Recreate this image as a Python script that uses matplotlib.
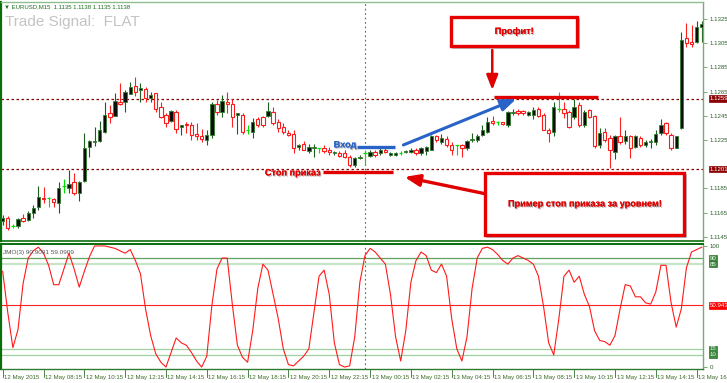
import matplotlib
matplotlib.use('Agg')
import matplotlib.pyplot as plt
import matplotlib.patheffects as pe
from matplotlib.patches import Rectangle
import numpy as np

# ---------------- data ----------------
opens = [1.1158,1.1161,1.1154,1.1154,1.1161,1.1159,1.1165,1.1170,1.1177,1.1177,
         1.1176,1.1173,1.1187,1.1185,1.1190,1.1181,1.1191,1.1219,1.1223,1.1224,
         1.1232,1.1247,1.1245,1.1256,1.1256,1.1263,1.1270,1.1266,1.1267,1.1260,
         1.1264,1.1252,1.1246,1.1241,1.1248,1.1236,1.1238,1.1237,1.1230,1.1228,
         1.1225,1.1229,1.1255,1.1248,1.1256,1.1255,1.1246,1.1246,1.1233,1.1232,
         1.1242,1.1244,1.1245,1.1248,1.1240,1.1236,1.1231,1.1230,1.1219,1.1222,
         1.1216,1.1218,1.1218,1.1218,1.1217,1.1214,1.1214,1.1214,1.1211,1.1204,
         1.1210,1.1214,1.1212,1.1215,1.1214,1.1217,1.1213,1.1213,1.1214,1.1215,
         1.1215,1.1217,1.1214,1.1216,1.1217,1.1228,1.1223,1.1226,1.1221,1.1221,
         1.1221,1.1218,1.1225,1.1225,1.1229,1.1232,1.1241,1.1240,1.1240,1.1237,
         1.1247,1.1249,1.1249,1.1246,1.1246,1.1251,1.1246,1.1233,1.1232,1.1251,
         1.1251,1.1248,1.1244,1.1254,1.1237,1.1250,1.1245,1.1221,1.1232,1.1227,
         1.1215,1.1228,1.1224,1.1228,1.1219,1.1227,1.1221,1.1223,1.1223,1.1231,
         1.1239,1.1229,1.1218,1.1235,1.1309,1.1306,1.1306,1.1318]
highs = [1.1163,1.1162,1.1156,1.1161,1.1164,1.1166,1.1171,1.1187,1.1186,1.1178,
         1.1177,1.1190,1.1193,1.1200,1.1198,1.1191,1.1231,1.1225,1.1236,1.1241,
         1.1256,1.1254,1.1264,1.1272,1.1266,1.1273,1.1277,1.1272,1.1269,1.1265,
         1.1264,1.1256,1.1247,1.1250,1.1250,1.1237,1.1240,1.1240,1.1239,1.1234,
         1.1233,1.1256,1.1258,1.1262,1.1265,1.1259,1.1247,1.1247,1.1237,1.1243,
         1.1244,1.1245,1.1256,1.1252,1.1242,1.1239,1.1233,1.1233,1.1222,1.1224,
         1.1222,1.1222,1.1218,1.1221,1.1219,1.1216,1.1216,1.1217,1.1213,1.1211,
         1.1213,1.1217,1.1217,1.1217,1.1218,1.1218,1.1215,1.1215,1.1216,1.1217,
         1.1218,1.1218,1.1219,1.1220,1.1229,1.1229,1.1230,1.1228,1.1223,1.1221,
         1.1222,1.1225,1.1231,1.1230,1.1237,1.1244,1.1245,1.1241,1.1240,1.1249,
         1.1251,1.1251,1.1250,1.1249,1.1252,1.1252,1.1247,1.1235,1.1256,1.1265,
         1.1256,1.1250,1.1259,1.1256,1.1250,1.1251,1.1246,1.1235,1.1235,1.1229,
         1.1229,1.1244,1.1233,1.1229,1.1229,1.1228,1.1225,1.1226,1.1233,1.1242,
         1.1240,1.1231,1.1228,1.1314,1.1322,1.1320,1.1323,1.1323]
lows = [1.1155,1.1151,1.1152,1.1152,1.1157,1.1158,1.1161,1.1167,1.1173,1.1170,
        1.1170,1.1165,1.1181,1.1181,1.1180,1.1175,1.1190,1.1211,1.1220,1.1223,
        1.1231,1.1239,1.1245,1.1254,1.1248,1.1263,1.1261,1.1256,1.1256,1.1256,
        1.1248,1.1243,1.1236,1.1240,1.1231,1.1229,1.1231,1.1225,1.1225,1.1223,
        1.1221,1.1227,1.1246,1.1244,1.1247,1.1236,1.1230,1.1230,1.1230,1.1227,
        1.1236,1.1236,1.1244,1.1237,1.1232,1.1230,1.1228,1.1214,1.1217,1.1217,
        1.1214,1.1211,1.1214,1.1214,1.1213,1.1213,1.1211,1.1210,1.1203,1.1203,
        1.1209,1.1204,1.1211,1.1211,1.1213,1.1214,1.1212,1.1212,1.1213,1.1214,
        1.1214,1.1213,1.1213,1.1213,1.1217,1.1223,1.1222,1.1219,1.1213,1.1213,
        1.1211,1.1217,1.1223,1.1223,1.1228,1.1231,1.1237,1.1237,1.1237,1.1236,
        1.1246,1.1246,1.1246,1.1245,1.1242,1.1244,1.1233,1.1223,1.1228,1.1248,
        1.1243,1.1235,1.1242,1.1236,1.1236,1.1243,1.1218,1.1218,1.1223,1.1202,
        1.1209,1.1222,1.1222,1.1210,1.1218,1.1219,1.1219,1.1218,1.1221,1.1229,
        1.1229,1.1217,1.1218,1.1234,1.1302,1.1302,1.1305,1.1306]
closes = [1.1161,1.1152,1.1154,1.1160,1.1158,1.1165,1.1169,1.1178,1.1176,1.1177,
          1.1174,1.1185,1.1187,1.1189,1.1181,1.1190,1.1218,1.1224,1.1224,1.1233,
          1.1246,1.1244,1.1257,1.1255,1.1265,1.1269,1.1265,1.1268,1.1260,1.1262,
          1.1251,1.1244,1.1239,1.1249,1.1234,1.1237,1.1237,1.1229,1.1228,1.1226,
          1.1229,1.1255,1.1248,1.1257,1.1255,1.1244,1.1247,1.1232,1.1233,1.1240,
          1.1237,1.1237,1.1249,1.1239,1.1235,1.1232,1.1229,1.1218,1.1221,1.1217,
          1.1219,1.1219,1.1218,1.1216,1.1215,1.1215,1.1212,1.1211,1.1204,1.1210,
          1.1211,1.1214,1.1215,1.1213,1.1217,1.1215,1.1214,1.1214,1.1214,1.1216,
          1.1217,1.1214,1.1218,1.1219,1.1228,1.1225,1.1227,1.1221,1.1217,1.1221,
          1.1218,1.1224,1.1226,1.1228,1.1233,1.1240,1.1239,1.1240,1.1238,1.1248,
          1.1248,1.1247,1.1247,1.1248,1.1250,1.1245,1.1233,1.1231,1.1252,1.1251,
          1.1247,1.1236,1.1252,1.1237,1.1248,1.1244,1.1220,1.1231,1.1225,1.1217,
          1.1228,1.1223,1.1228,1.1218,1.1228,1.1221,1.1223,1.1224,1.1230,1.1237,
          1.1231,1.1218,1.1228,1.1308,1.1305,1.1304,1.1318,1.1321]

jmo = [79,45,16,31,69,90,96,99,94,84,68,68,81,94,81,66,79,91,100,100,
       100,99,98,96,94,97,88,77,48,26,11,4,0,12,24,20,18,12,5,0,
       9,51,81,90,90,52,18,8,4,30,65,85,80,60,40,15,2,1,5,9,
       15,45,75,80,60,20,2,0,1,25,70,92,98,95,90,85,60,25,5,30,
       70,88,95,92,80,78,85,75,40,15,5,25,65,90,98,99,97,93,88,85,
       90,92,90,88,85,75,50,20,10,40,75,80,70,75,60,50,30,22,21,18,
       26,48,68,67,58,58,53,52,62,84,84,53,33,48,82,95,97,99]

price_ticks = [1.1325, 1.1305, 1.1285, 1.1265, 1.1245, 1.1225, 1.1185, 1.1165, 1.1145]
level_lines = [1.1259, 1.1201]
level_labels = ['1.1259', '1.1201']
jmo_levels = [90, 85, 15, 10]
jmo_last = 50.9434
time_labels = ['12 May 2015', '12 May 08:15', '12 May 10:15', '12 May 12:15', '12 May 14:15',
               '12 May 16:15', '12 May 18:15', '12 May 20:15', '12 May 22:15', '13 May 00:15',
               '13 May 02:15', '13 May 04:15', '13 May 06:15', '13 May 08:15', '13 May 10:15',
               '13 May 12:15', '13 May 14:15', '13 May 16:15']
label_step = 8
cursor_bar = 71

# ---------------- figure ----------------
W, H = 727, 383
fig = plt.figure(figsize=(W / 100, H / 100), dpi=100)
fig.patch.set_facecolor('white')
FONT = 'Liberation Sans'
SMALL = 4.4
ANN = 6.6

def fx(px):
    return px / W

def fy(py):
    return 1 - py / H

ax = fig.add_axes([fx(1), fy(241), fx(703) - fx(1), fy(2) - fy(241)])
ax2 = fig.add_axes([fx(1), fy(369), fx(703) - fx(1), fy(244) - fy(369)])

n = len(closes)
x = np.arange(n)
O = np.array(opens); Hh = np.array(highs); L = np.array(lows); C = np.array(closes)
bull = C > O
bear = C < O
doji = C == O

ax.set_xlim(-0.33, 137.25)
ax.set_ylim(1.11416, 1.13390)

# wicks
ax.vlines(x[bull], L[bull], Hh[bull], color='#1c5e1c', lw=0.8, zorder=2)
ax.vlines(x[bear], L[bear], Hh[bear], color='#ff2020', lw=0.8, zorder=2)
ax.vlines(x[doji], L[doji], Hh[doji], color='#00e000', lw=0.8, zorder=2)
# bodies
ax.bar(x[bull], (C - O)[bull], bottom=O[bull], width=0.66, color='#0a0f0a',
       edgecolor='#2f7f2f', linewidth=0.6, zorder=3)
ax.bar(x[bear], (O - C)[bear], bottom=C[bear], width=0.66, color='white',
       edgecolor='#ff1a1a', linewidth=0.8, zorder=3)
ax.hlines(C[doji], x[doji] - 0.35, x[doji] + 0.35, color='#00e000', lw=0.9, zorder=3)

# level lines
for lv in level_lines:
    ax.axhline(lv, color='#8b0000', lw=0.9, ls=(0, (2, 2)), zorder=1)
ax.axvline(cursor_bar, color='#1f8f1f', lw=0.8, ls=(0, (1.5, 2.5)), zorder=1)

# axes styling
for a in (ax, ax2):
    a.set_facecolor('white')
    a.tick_params(axis='x', which='both', bottom=False, labelbottom=False)
    a.yaxis.tick_right()
    a.tick_params(axis='y', direction='out', length=3, width=0.6, color='#5f9f5f',
                  labelsize=SMALL, labelcolor='#2e5e2e', pad=1.5)
ax.spines['left'].set_color('#0a6e0a'); ax.spines['left'].set_linewidth(1.6)
ax.spines['top'].set_color('#8fbf8f'); ax.spines['top'].set_linewidth(1.0)
ax.spines['right'].set_color('#7aa97a'); ax.spines['right'].set_linewidth(1.0)
ax.spines['bottom'].set_color('#0a6e0a'); ax.spines['bottom'].set_linewidth(1.2)
ax2.spines['left'].set_color('#0a6e0a'); ax2.spines['left'].set_linewidth(1.6)
ax2.spines['top'].set_color('#0a6e0a'); ax2.spines['top'].set_linewidth(1.4)
ax2.spines['right'].set_color('#7aa97a'); ax2.spines['right'].set_linewidth(1.0)
ax2.spines['bottom'].set_color('#2e7d2e'); ax2.spines['bottom'].set_linewidth(1.0)

ax.set_yticks(price_ticks)
ax.set_yticklabels([f'{p:.4f}' for p in price_ticks], fontfamily=FONT)
for lv, lb in zip(level_lines, level_labels):
    ax.text(1.0095, lv, lb, transform=ax.get_yaxis_transform(), fontsize=SMALL,
            family=FONT, color='white', va='center', ha='left',
            bbox=dict(boxstyle='square,pad=0.15', fc='#8b0000', ec='#8b0000', lw=0.5),
            clip_on=False)

# header texts
fig.text(fx(4), fy(7), '\u25bc EURUSD,M15  1.1135 1.1138 1.1135 1.1138', fontsize=4.3,
         family=[FONT, 'DejaVu Sans'], color='#1f6b1f', va='center', ha='left')
fig.text(fx(5), fy(22), 'Trade Signal:  FLAT', fontsize=11, family=FONT,
         color='#c4c4c4', va='center', ha='left')

# ---------------- annotations ----------------
def px2d(px, py):
    return ((px - 1.7) / 5.11, 1.1325 - (py - 19) * 0.0000826)

shadow = [pe.withSimplePatchShadow(offset=(0.8, -0.8), shadow_rgbFace='#909090', alpha=0.7),
          pe.Normal()]

# entry
e0, e1 = px2d(357, 147), px2d(395, 147)
ax.plot([e0[0], e1[0]], [e0[1], e1[1]], color='#2a63c8', lw=2.4, solid_capstyle='butt', zorder=5)
ax.text(*px2d(356, 145), 'Вход', fontsize=ANN, fontweight='bold', family=FONT,
        color='#2a63c8', ha='right', va='center', path_effects=shadow, zorder=6)
# stop
s0, s1 = px2d(322, 172), px2d(393, 172)
ax.plot([s0[0], s1[0]], [s0[1], s1[1]], color='#e00000', lw=2.4, solid_capstyle='butt', zorder=5)
ax.text(*px2d(320, 173), 'Стоп приказ', fontsize=ANN, fontweight='bold', family=FONT,
        color='#e00000', ha='right', va='center', path_effects=shadow, zorder=6)
# profit line
p0, p1 = px2d(494, 97), px2d(598, 97)
ax.plot([p0[0], p1[0]], [p0[1], p1[1]], color='#e00000', lw=2.4, solid_capstyle='butt', zorder=5)
# blue arrow
ax.annotate('', xy=px2d(516, 99), xytext=px2d(403, 145),
            arrowprops=dict(arrowstyle='-|>,head_length=0.9,head_width=0.35', lw=2.2,
                            color='#2a63c8', shrinkA=0, shrinkB=0), zorder=6)
# red down arrow
ax.annotate('', xy=px2d(492, 90), xytext=px2d(492, 50),
            arrowprops=dict(arrowstyle='-|>,head_length=0.9,head_width=0.35', lw=1.8,
                            color='#e00000', shrinkA=0, shrinkB=0), zorder=6)
# red left arrow
ax.annotate('', xy=px2d(404, 177), xytext=px2d(486, 194),
            arrowprops=dict(arrowstyle='-|>,head_length=0.9,head_width=0.35', lw=2.4,
                            color='#e00000', shrinkA=0, shrinkB=0), zorder=6)

# boxes
def box(px0, py0, px1, py1, text):
    a0 = px2d(px0, py1); a1 = px2d(px1, py0)
    sh0 = px2d(px0 + 2, py1 + 2); sh1 = px2d(px1 + 2, py0 + 2)
    ax.add_patch(Rectangle(sh0, sh1[0] - sh0[0], sh1[1] - sh0[1], fc='none',
                           ec='#b0b0b0', lw=1.2, zorder=6))
    ax.add_patch(Rectangle(a0, a1[0] - a0[0], a1[1] - a0[1], fc='white',
                           ec='#e60000', lw=2.4, zorder=7))
    cx, cy = px2d((px0 + px1) / 2, (py0 + py1) / 2)
    ax.text(cx, cy, text, fontsize=ANN, fontweight='bold', family=FONT, color='#e00000',
            ha='center', va='center', path_effects=shadow, zorder=8)

box(451, 17, 577, 46, 'Профит!')
box(485, 173, 684, 235, 'Пример стоп приказа за уровнем!')

# ---------------- indicator ----------------
ax2.set_xlim(-0.33, 137.25)
ax2.set_ylim(-1.6, 101.6)
ax2.axhline(jmo_levels[0], color='#5fa55f', lw=0.9, zorder=1)
ax2.axhline(jmo_levels[1], color='#c8e4c8', lw=1.6, zorder=1)
ax2.axhline(jmo_levels[2], color='#9fd09f', lw=0.9, zorder=1)
ax2.axhline(jmo_levels[3], color='#9fd09f', lw=0.9, zorder=1)
ax2.axhline(jmo_last, color='#ff2020', lw=0.8, zorder=1)
ax2.axvline(cursor_bar, color='#1f8f1f', lw=0.8, ls=(0, (1.5, 2.5)), zorder=1)
ax2.plot(x, jmo, color='#ff1a1a', lw=0.8, zorder=3)
ax2.set_yticks([100, 0])
ax2.set_yticklabels(['100', '0'], fontfamily=FONT)
for lv in jmo_levels:
    ax2.text(1.0095, lv, str(lv), transform=ax2.get_yaxis_transform(), fontsize=SMALL,
             family=FONT, color='#e8f5e8', va='center', ha='left',
             bbox=dict(boxstyle='square,pad=0.1', fc='#3f8a3f', ec='#2f6f2f', lw=0.5),
             clip_on=False)
ax2.text(1.0095, jmo_last, f'{jmo_last:.4f}', transform=ax2.get_yaxis_transform(),
         fontsize=SMALL, family=FONT, color='white', va='center', ha='left',
         bbox=dict(boxstyle='square,pad=0.12', fc='#ff0000', ec='#ff0000', lw=0.5),
         clip_on=False)
ax2.text(0.003, 0.93, 'JMO(3) 90.9091 59.0909', transform=ax2.transAxes, fontsize=4.6,
         family=FONT, color='#555555', va='center', ha='left')

# time labels
for k, lab in enumerate(time_labels):
    xi = k * label_step
    ax2.plot([xi, xi], [-0.01, -0.06], transform=ax2.get_xaxis_transform(),
             color='#2e6e2e', lw=0.6, clip_on=False)
    ax2.text(xi + 0.3, -0.045, lab, transform=ax2.get_xaxis_transform(), fontsize=SMALL,
             family=FONT, color='#3c6a28', ha='left', va='top', clip_on=False)

fig.savefig('out.png', dpi=100, facecolor='white')
